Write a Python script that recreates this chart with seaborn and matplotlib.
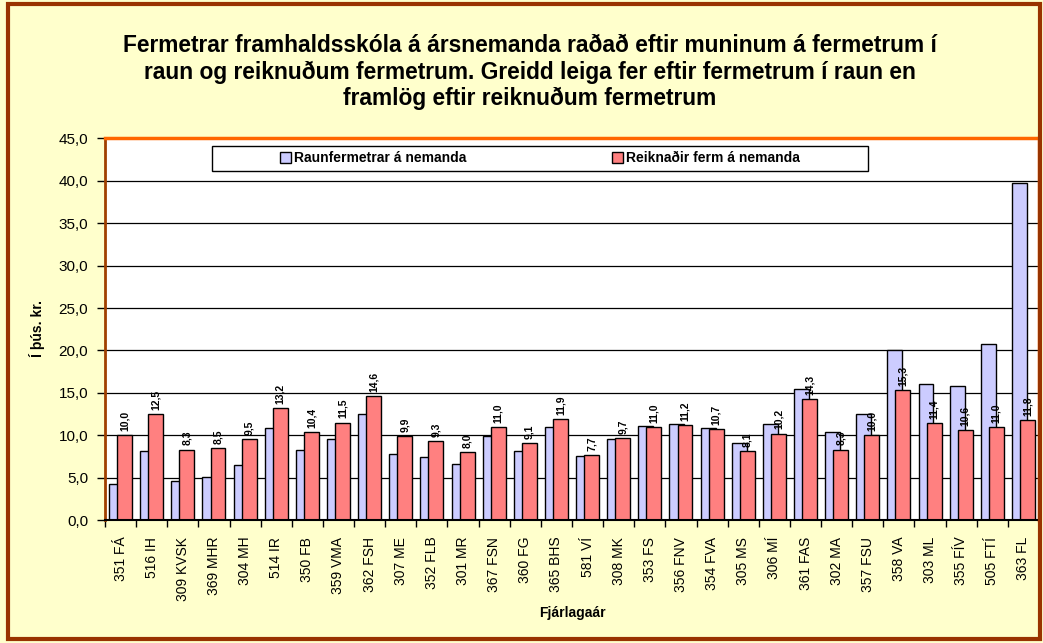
import numpy as np
import pandas as pd
import matplotlib
matplotlib.use("Agg")
import matplotlib.pyplot as plt
import seaborn as sns
from matplotlib.patches import Rectangle, Patch

# ================== data ==================
skolar = ["351 FÁ", "516 IH", "309 KVSK", "369 MHR", "304 MH", "514 IR", "350 FB",
          "359 VMA", "362 FSH", "307 ME", "352 FLB", "301 MR", "367 FSN", "360 FG",
          "365 BHS", "581 VÍ", "308 MK", "353 FS", "356 FNV", "354 FVA", "305 MS",
          "306 MÍ", "361 FAS", "302 MA", "357 FSU", "358 VA", "303 ML", "355 FÍV",
          "505 FTÍ", "363 FL"]
raunfermetrar = [4.2, 8.1, 4.6, 5.1, 6.5, 10.9, 8.3, 9.5, 12.5, 7.8,
                 7.4, 6.6, 9.9, 8.1, 11.0, 7.5, 9.6, 11.1, 11.3, 10.9,
                 9.1, 11.3, 15.5, 10.4, 12.5, 20.0, 16.1, 15.8, 20.8, 39.7]
reiknadir = [10.0, 12.5, 8.3, 8.5, 9.5, 13.2, 10.4, 11.5, 14.6, 9.9,
             9.3, 8.0, 11.0, 9.1, 11.9, 7.7, 9.7, 11.0, 11.2, 10.7,
             8.1, 10.2, 14.3, 8.3, 10.0, 15.3, 11.4, 10.6, 11.0, 11.8]

lbl_raun = "Raunfermetrar á nemanda"
lbl_reikn = "Reiknaðir ferm á nemanda"
title = ("Fermetrar framhaldsskóla á ársnemanda raðað eftir muninum á fermetrum í\n"
         "raun og reiknuðum fermetrum. Greidd leiga fer eftir fermetrum í raun en\n"
         "framlög eftir reiknuðum fermetrum")

blue = "#CCCCFF"
red = "#FF8080"

plt.rcParams["font.family"] = ["Liberation Sans", "DejaVu Sans"]

fig = plt.figure(figsize=(10.43, 6.43), dpi=100, facecolor="#FFFFCC")
ax = fig.add_axes([105 / 1043, 1 - 520 / 643, 934 / 1043, 381.5 / 643])
ax.set_facecolor("white")

# blue first, red on top, overlapping like the excel chart
sns.barplot(x=skolar, y=raunfermetrar, color=blue, saturation=1, width=0.48,
            edgecolor="black", linewidth=1, errorbar=None, ax=ax)
n = len(skolar)
for p in ax.patches[:n]:
    p.set_x(p.get_x() - 0.13)
sns.barplot(x=skolar, y=reiknadir, color=red, saturation=1, width=0.48,
            edgecolor="black", linewidth=1, errorbar=None, ax=ax)
for p in ax.patches[n:]:
    p.set_x(p.get_x() + 0.13)

ax.bar_label(ax.containers[1], labels=[f"{v:.1f}".replace(".", ",") for v in reiknadir],
             rotation=90, padding=3, fontsize=7.5, fontweight="bold")

ax.set_ylim(0, 45)
ax.set_xlim(-0.5, n - 0.5)
ax.set_yticks(np.arange(0, 46, 5))
ax.set_yticklabels([f"{v:.1f}".replace(".", ",") for v in np.arange(0, 46, 5)], fontsize=11)
ax.yaxis.grid(True, color="black", linewidth=0.9)
ax.set_axisbelow(True)

ax.tick_params(axis="x", which="major", length=0, labelrotation=90, labelsize=10, pad=12)
ax.set_xticks(np.arange(-0.5, n, 1), minor=True)
ax.tick_params(axis="x", which="minor", length=5, width=1, color="black")
ax.tick_params(axis="y", length=6, width=1, pad=6)

for s in ["top", "right"]:
    ax.spines[s].set_color("#FF6600")
    ax.spines[s].set_linewidth(2.5)
ax.spines["left"].set_color("#A04000")
ax.spines["left"].set_linewidth(2)
ax.spines["bottom"].set_color("black")
ax.spines["bottom"].set_linewidth(1.5)

ax.set_xlabel("")
ax.set_ylabel("")
fig.text(37 / 1043, 1 - 328 / 643, "Í þús. kr.", rotation=90, ha="center", va="center",
         fontsize=10, fontweight="bold")
fig.text(572 / 1043, 1 - 613 / 643, "Fjárlagaár", ha="center", va="center",
         fontsize=10, fontweight="bold")

# legend box
ax.add_patch(Rectangle((107 / 934, (520 - 171) / 381.5), 656 / 934, 25 / 381.5,
                       transform=ax.transAxes, facecolor="white", edgecolor="black",
                       linewidth=1, zorder=5))
handles = [Patch(facecolor=blue, edgecolor="black", label=lbl_raun),
           Patch(facecolor=red, edgecolor="black", label=lbl_reikn)]
leg = ax.legend(handles=handles, loc="center", bbox_to_anchor=(0.4657, 0.9476),
                ncol=2, frameon=False, prop={"size": 10, "weight": "bold"},
                handlelength=0.8, handleheight=0.8, handletextpad=0.2, columnspacing=10.5)
leg.set_zorder(6)

fig.text(530 / 1043, 1 - 72 / 643, title, ha="center", va="center", fontsize=16.4,
         fontweight="bold", linespacing=1.2)

fig.add_artist(Rectangle((8 / 1043, 4 / 643), 1032 / 1043, 635 / 643,
                         transform=fig.transFigure, fill=False, edgecolor="#993300",
                         linewidth=3))

fig.savefig("out.png", dpi=100, facecolor=fig.get_facecolor())
